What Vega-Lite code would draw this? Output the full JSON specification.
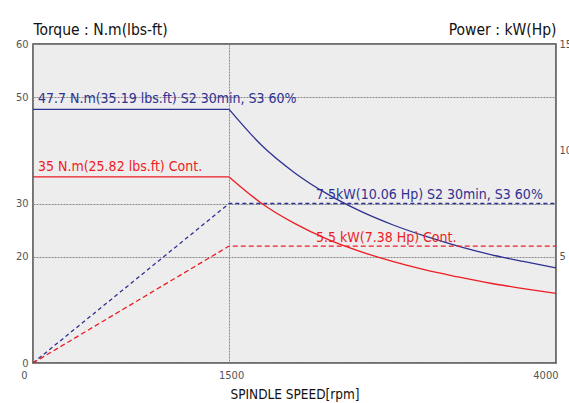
{
  "$schema": "https://vega.github.io/schema/vega-lite/v6.json",
  "width": 523,
  "height": 319,
  "autosize": {"type": "none"},
  "padding": {"left": 33, "top": 44, "right": 13, "bottom": 40},
  "background": "#ffffff",
  "config": {
    "font": "DejaVu Sans Condensed",
    "view": {"fill": "#ededed", "stroke": "#444444", "strokeWidth": 1.5},
    "text": {"font": "DejaVu Sans Condensed"},
    "axis": {"labelFont": "DejaVu Sans Condensed", "titleFont": "DejaVu Sans Condensed", "labelColor": "#555555", "titleColor": "#111111", "ticks": false, "domain": false, "gridColor": "#888888", "gridDash": [2, 1], "gridWidth": 1}
  },
  "datasets": {
    "torque": [
      {"rpm": 0, "torque": 47.7, "series": "S2", "seg": "S2a"},
      {"rpm": 1500, "torque": 47.7, "series": "S2", "seg": "S2a"},
      {"rpm": 1500, "torque": 47.7, "series": "S2", "seg": "S2b"},
      {"rpm": 1750, "torque": 40.9, "series": "S2", "seg": "S2b"},
      {"rpm": 2000, "torque": 35.8, "series": "S2", "seg": "S2b"},
      {"rpm": 2250, "torque": 31.8, "series": "S2", "seg": "S2b"},
      {"rpm": 2500, "torque": 28.6, "series": "S2", "seg": "S2b"},
      {"rpm": 2750, "torque": 26.0, "series": "S2", "seg": "S2b"},
      {"rpm": 3000, "torque": 23.85, "series": "S2", "seg": "S2b"},
      {"rpm": 3250, "torque": 22.0, "series": "S2", "seg": "S2b"},
      {"rpm": 3500, "torque": 20.4, "series": "S2", "seg": "S2b"},
      {"rpm": 3750, "torque": 19.1, "series": "S2", "seg": "S2b"},
      {"rpm": 4000, "torque": 17.9, "series": "S2", "seg": "S2b"},
      {"rpm": 0, "torque": 35, "series": "Cont", "seg": "Ca"},
      {"rpm": 1500, "torque": 35, "series": "Cont", "seg": "Ca"},
      {"rpm": 1500, "torque": 35, "series": "Cont", "seg": "Cb"},
      {"rpm": 1750, "torque": 30.0, "series": "Cont", "seg": "Cb"},
      {"rpm": 2000, "torque": 26.25, "series": "Cont", "seg": "Cb"},
      {"rpm": 2250, "torque": 23.3, "series": "Cont", "seg": "Cb"},
      {"rpm": 2500, "torque": 21.0, "series": "Cont", "seg": "Cb"},
      {"rpm": 2750, "torque": 19.1, "series": "Cont", "seg": "Cb"},
      {"rpm": 3000, "torque": 17.5, "series": "Cont", "seg": "Cb"},
      {"rpm": 3250, "torque": 16.2, "series": "Cont", "seg": "Cb"},
      {"rpm": 3500, "torque": 15.0, "series": "Cont", "seg": "Cb"},
      {"rpm": 3750, "torque": 14.0, "series": "Cont", "seg": "Cb"},
      {"rpm": 4000, "torque": 13.1, "series": "Cont", "seg": "Cb"}
    ],
    "power": [
      {"rpm": 0, "kw": 0, "series": "S2"},
      {"rpm": 1500, "kw": 7.5, "series": "S2"},
      {"rpm": 4000, "kw": 7.5, "series": "S2"},
      {"rpm": 0, "kw": 0, "series": "Cont"},
      {"rpm": 1500, "kw": 5.5, "series": "Cont"},
      {"rpm": 4000, "kw": 5.5, "series": "Cont"}
    ],
    "tlabels": [
      {"rpm": 38, "torque": 49.6, "series": "S2", "label": "47.7 N.m(35.19 lbs.ft) S2 30min, S3 60%"},
      {"rpm": 38, "torque": 36.8, "series": "Cont", "label": "35 N.m(25.82 lbs.ft) Cont."}
    ],
    "plabels": [
      {"rpm": 2164, "kw": 7.88, "series": "S2", "label": "7.5kW(10.06 Hp) S2 30min, S3 60%"},
      {"rpm": 2164, "kw": 5.9, "series": "Cont", "label": "5.5 kW(7.38 Hp) Cont."}
    ]
  },
  "layer": [
    {
      "layer": [
        {
          "data": {"name": "torque"},
          "mark": {"type": "line", "strokeWidth": 1.3, "interpolate": "monotone"},
          "encoding": {
            "x": {"field": "rpm", "type": "quantitative", "scale": {"domain": [0, 4000], "nice": false},
              "axis": {"values": [0, 1500, 4000], "format": "d", "grid": true, "title": "SPINDLE SPEED[rpm]", "titleFontSize": 13.5, "titleFontWeight": "normal", "titlePadding": 7, "labelFontSize": 11, "labelPadding": 6,
                "labelAlign": {"condition": {"test": "datum.value == 0 || datum.value == 4000", "value": "right"}, "value": "center"},
                "labelOffset": {"condition": {"test": "datum.value == 0", "value": -6}, "value": 2}}},
            "y": {"field": "torque", "type": "quantitative", "scale": {"domain": [0, 60], "nice": false},
              "axis": {"orient": "left", "values": [0, 20, 30, 50, 60], "grid": true, "title": "Torque : N.m(lbs-ft)", "titleAngle": 0, "titleAlign": "left", "titleBaseline": "alphabetic", "titleX": 0, "titleY": -10, "titleFontSize": 15.5, "titleFontWeight": "normal", "labelFontSize": 11, "labelPadding": 5}},
            "color": {"field": "series", "type": "nominal", "scale": {"domain": ["S2", "Cont"], "range": ["#2e3192", "#ed1c24"]}, "legend": null},
            "detail": {"field": "seg", "type": "nominal"}
          }
        },
        {
          "data": {"name": "tlabels"},
          "mark": {"type": "text", "align": "left", "baseline": "middle", "fontSize": 14},
          "encoding": {
            "x": {"field": "rpm", "type": "quantitative"},
            "y": {"field": "torque", "type": "quantitative"},
            "text": {"field": "label"},
            "color": {"field": "series", "type": "nominal", "legend": null}
          }
        }
      ]
    },
    {
      "layer": [
        {
          "data": {"name": "power"},
          "mark": {"type": "line", "strokeWidth": 1.3},
          "encoding": {
            "x": {"field": "rpm", "type": "quantitative"},
            "y": {"field": "kw", "type": "quantitative", "scale": {"domain": [0, 15], "nice": false},
              "axis": {"orient": "right", "values": [5, 10, 15], "grid": false, "title": "Power : kW(Hp)", "titleAngle": 0, "titleAlign": "right", "titleBaseline": "alphabetic", "titleX": 0, "titleY": -10, "titleFontSize": 15.5, "titleFontWeight": "normal", "labelFontSize": 11, "labelPadding": 3}},
            "color": {"field": "series", "type": "nominal", "legend": null},
            "strokeDash": {"field": "series", "type": "nominal", "scale": {"domain": ["S2", "Cont"], "range": [[4, 3], [5, 3]]}, "legend": null}
          }
        },
        {
          "data": {"name": "plabels"},
          "mark": {"type": "text", "align": "left", "baseline": "middle", "fontSize": 14},
          "encoding": {
            "x": {"field": "rpm", "type": "quantitative"},
            "y": {"field": "kw", "type": "quantitative"},
            "text": {"field": "label"},
            "color": {"field": "series", "type": "nominal", "legend": null}
          }
        }
      ]
    }
  ],
  "resolve": {"scale": {"y": "independent"}}
}
